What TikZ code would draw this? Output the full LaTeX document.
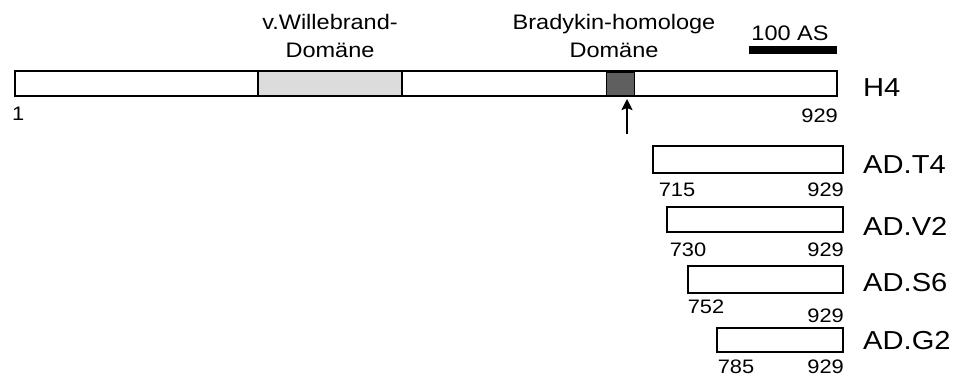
\documentclass[tikz,border=0pt]{standalone}
\usepackage{fontspec}
\setmainfont{Liberation Sans}[FakeStretch=1.12]
\usetikzlibrary{arrows.meta}
\tikzset{
  seg/.style={draw=black, line width=2pt, fill=white},
  num/.style={inner sep=0pt, font=\fontsize{19.5}{21}\selectfont},
  protname/.style={inner sep=0pt, anchor=west, font=\fontsize{26}{28}\selectfont},
  dom/.style={inner sep=0pt, align=center, font=\fontsize{21}{28}\selectfont},
}
\begin{document}
\begin{tikzpicture}[x=1pt, y=-1pt]
\useasboundingbox (0,0) rectangle (953,378);
% full-length protein H4 with its two domains
\draw[seg] (15,71) rectangle (837,96);
\draw[seg, fill={rgb,255:red,220;green,220;blue,220}] (258,71) rectangle (402,96);
\draw[line width=0pt, fill={rgb,255:red,95;green,95;blue,95}] (606,72) rectangle (634,95);
\node[protname] (h4) at (863,88) {H4};
\node[num, anchor=west] (n1) at (12,114) {1};
\node[num, anchor=east] (n929) at (838,116) {929};
% domain labels
\node[dom] (vwd) at (330,36) {v.Willebrand-\\Domäne};
\node[dom] (bkd) at (614,36) {Bradykin-homologe\\Domäne};
% scale bar
\node[num, font=\fontsize{21}{22}\selectfont] (scl) at (790,33) {100 AS};
\fill (749,46) rectangle (837,54);
% cleavage site arrow
\coordinate (atail) at (627,134);
\coordinate (ahead) at (627,99);
\draw[line width=2.2pt, -{Stealth[length=11pt, width=11pt, inset=2pt]}] (atail) -- (ahead);
% truncated constructs
\draw[seg] (653,146) rectangle (843,173);
\node[protname] (t4) at (863,165) {AD.T4};
\node[num] (t4a) at (677,190) {715};
\node[num, anchor=east] (t4b) at (844,190) {929};
\draw[seg] (667,207) rectangle (843,232);
\node[protname] (v2) at (863,226) {AD.V2};
\node[num] (v2a) at (688,250) {730};
\node[num, anchor=east] (v2b) at (844,250) {929};
\draw[seg] (688,266) rectangle (843,293);
\node[protname] (s6) at (863,283) {AD.S6};
\node[num] (s6a) at (706,307) {752};
\node[num, anchor=east] (s6b) at (844,316) {929};
\draw[seg] (717,328) rectangle (843,352);
\node[protname] (g2) at (863,341) {AD.G2};
\node[num] (g2a) at (736,367) {785};
\node[num, anchor=east] (g2b) at (844,367) {929};
\end{tikzpicture}
\end{document}
